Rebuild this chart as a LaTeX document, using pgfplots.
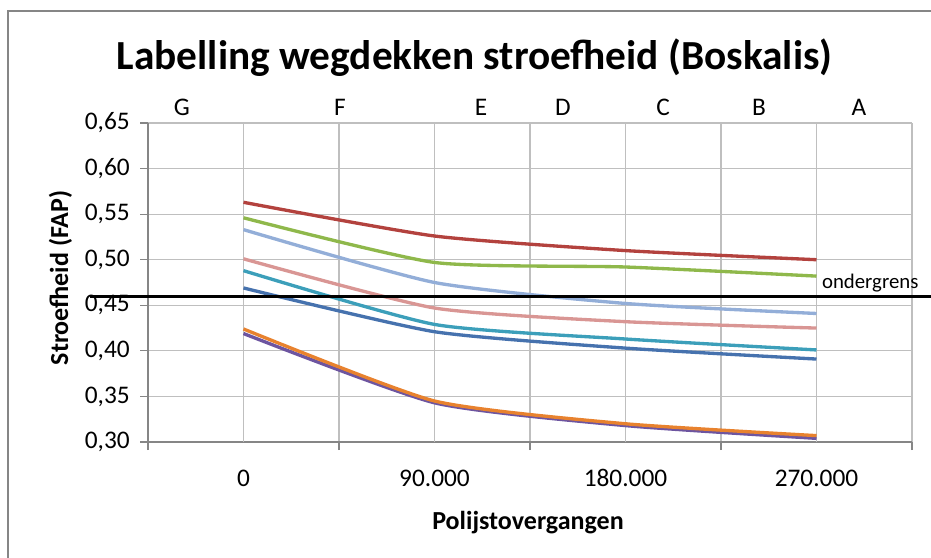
\documentclass[border=0pt]{standalone}
\usepackage{fontspec}
\setmainfont{Carlito}
\usepackage{pgfplots}
\pgfplotsset{compat=1.18}
\definecolor{cRed}{HTML}{B3423E}
\definecolor{cGreen}{HTML}{8FB84B}
\definecolor{cLBlue}{HTML}{93AED8}
\definecolor{cPink}{HTML}{D99694}
\definecolor{cTeal}{HTML}{3C9FBA}
\definecolor{cBlue}{HTML}{4672AE}
\definecolor{cPurple}{HTML}{6D55A0}
\definecolor{cOrange}{HTML}{E8822E}
\definecolor{gridgray}{HTML}{BFBFBF}
\definecolor{axisgray}{HTML}{868686}
\begin{document}
\begin{tikzpicture}[x=1pt,y=1pt]
\path[use as bounding box] (0,0) rectangle (698.25,417.75);
\draw[axisgray, line width=1.1pt] (6,-1) -- (6,409.5) -- (699,409.5);
\node[anchor=base, font=\fontsize{31}{35}\selectfont\bfseries, inner sep=0pt] at (356,365.8) {Labelling wegdekken stroefheid (Boskalis)};
\node[anchor=base, font=\fontsize{19.5}{22}\selectfont\bfseries, inner sep=0pt] at (396,20.3) {Polijstovergangen};
\node[anchor=base, rotate=90, font=\fontsize{19.5}{22}\selectfont\bfseries, inner sep=0pt] at (51,209.3) {Stroefheid (FAP)};
\begin{axis}[
  at={(111pt,86.25pt)}, anchor=south west,
  scale only axis, width=573pt, height=239.25pt,
  xmin=-45000, xmax=315000, ymin=0.30, ymax=0.65,
  axis lines=left,
  axis line style={draw=axisgray, line width=0.9pt, -},
  clip=false,
  xmajorgrids, ymajorgrids,
  grid style={draw=gridgray, line width=0.8pt},
  tick style={draw=axisgray, line width=0.8pt},
  tick align=outside,
  major tick length=6pt,
  xtick={-45000,45000,135000,225000,315000},
  xticklabels={,,,,},
  extra x ticks={0,90000,180000,270000},
  extra x tick labels={0,90.000,180.000,270.000},
  extra x tick style={grid=major, major tick length=0pt},
  ytick={0.30,0.35,0.40,0.45,0.50,0.55,0.60,0.65},
  scaled ticks=false,
  /pgf/number format/fixed,
  /pgf/number format/fixed zerofill,
  /pgf/number format/precision=2,
  /pgf/number format/use comma,
  /pgf/number format/assume math mode=true,
  ticklabel style={font=\fontsize{19}{21}\selectfont},
  xticklabel style={anchor=base, inner sep=0pt, yshift=-33.5pt},
  yticklabel style={anchor=east, inner sep=0pt, xshift=-7.5pt},
  every axis plot/.append style={line width=2.5pt, no markers, smooth, tension=0.35},
]
\addplot[cBlue] coordinates {(0,0.469) (90000,0.421) (180000,0.403) (270000,0.391)};
\addplot[cRed] coordinates {(0,0.563) (90000,0.526) (180000,0.510) (270000,0.500)};
\addplot[cGreen] coordinates {(0,0.546) (90000,0.497) (180000,0.492) (270000,0.482)};
\addplot[cPurple] coordinates {(0,0.419) (90000,0.343) (180000,0.318) (270000,0.304)};
\addplot[cTeal] coordinates {(0,0.488) (90000,0.429) (180000,0.413) (270000,0.401)};
\addplot[cOrange] coordinates {(0,0.424) (90000,0.345) (180000,0.320) (270000,0.307)};
\addplot[cLBlue] coordinates {(0,0.533) (90000,0.475) (180000,0.452) (270000,0.441)};
\addplot[cPink] coordinates {(0,0.501) (90000,0.447) (180000,0.432) (270000,0.425)};
\addplot[black, line width=2.3pt, sharp plot] coordinates {(-72300,0.46) (324000,0.46)};
\node[anchor=base west, inner sep=0pt, font=\fontsize{15.6}{18}\selectfont] at (axis cs:272500,0.468) {ondergrens};
\begin{scope}[every node/.style={anchor=base, inner sep=0pt, font=\fontsize{19}{21}\selectfont}]
\node at (axis cs:-29000,0.658) {G};
\node at (axis cs:45500,0.658) {F};
\node at (axis cs:111900,0.658) {E};
\node at (axis cs:150500,0.658) {D};
\node at (axis cs:197700,0.658) {C};
\node at (axis cs:242900,0.658) {B};
\node at (axis cs:290000,0.658) {A};
\end{scope}
\end{axis}
\end{tikzpicture}
\end{document}
